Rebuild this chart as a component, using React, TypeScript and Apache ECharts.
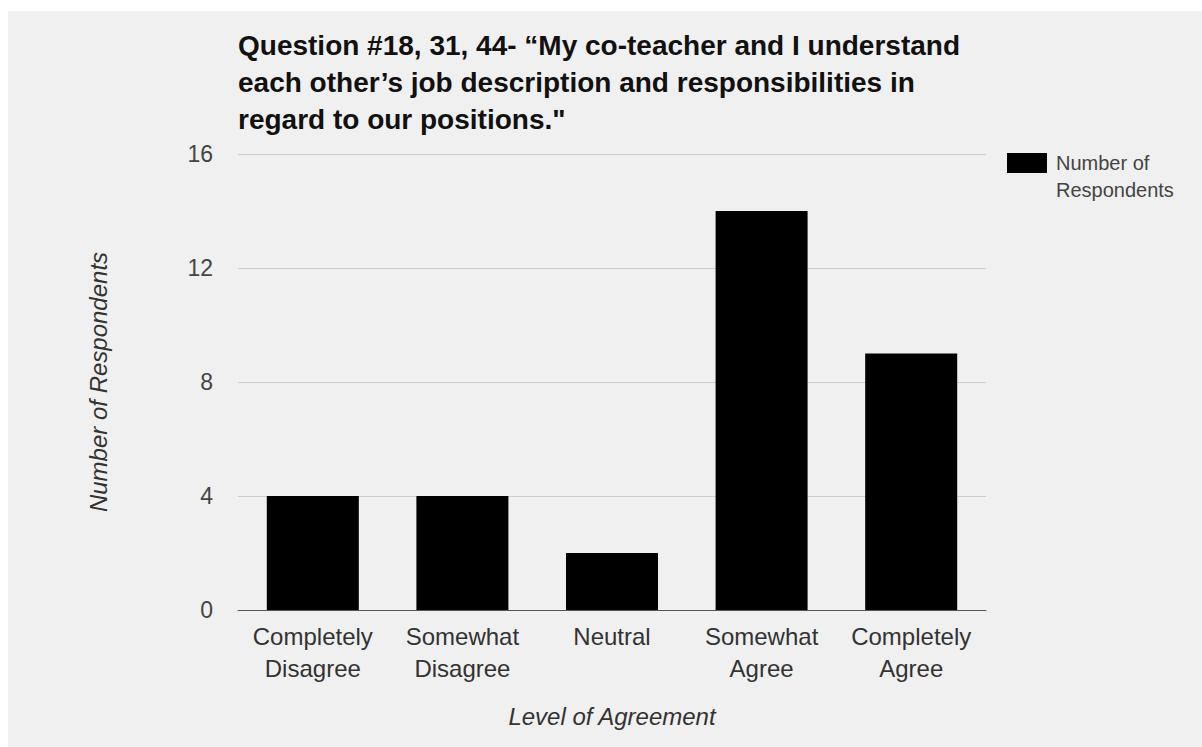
import React, { useEffect, useRef } from "react";
import * as echarts from "echarts";

const categories = ["Completely\nDisagree", "Somewhat\nDisagree", "Neutral", "Somewhat\nAgree", "Completely\nAgree"];
const respondents = [4, 4, 2, 14, 9];
const seriesName = "Number of Respondents";
const titleLines = [
  "Question #18, 31, 44- \u201cMy co-teacher and I understand",
  "each other\u2019s job description and responsibilities in",
  "regard to our positions.\"",
];
const yAxisName = "Number of Respondents";
const xAxisName = "Level of Agreement";

const FONT = "'Liberation Sans', Arial, sans-serif";

export default function App() {
  const ref = useRef<HTMLDivElement>(null);
  useEffect(() => {
    if (!ref.current) return;
    const chart = echarts.init(ref.current, undefined, { renderer: "svg" });
    chart.setOption({
      animation: false,
      backgroundColor: "#f0f0f0",
      textStyle: { fontFamily: FONT },
      title: {
        text: titleLines.join("\n"),
        left: 230,
        top: 16,
        padding: 0,
        textStyle: {
          fontFamily: FONT,
          fontSize: 28,
          fontWeight: "bold",
          color: "#111",
          lineHeight: 37,
        },
      },
      grid: { left: 230, right: 216, top: 143, bottom: 137, containLabel: false },
      xAxis: {
        type: "category",
        data: categories,
        axisTick: { show: false },
        axisLine: { lineStyle: { color: "#555", width: 1 } },
        axisLabel: {
          color: "#333",
          fontSize: 24,
          lineHeight: 32,
          margin: 10,
          fontFamily: FONT,
          interval: 0,
        },
        name: xAxisName,
        nameLocation: "middle",
        nameGap: 94,
        nameTextStyle: { fontStyle: "italic", fontSize: 24, color: "#333", fontFamily: FONT },
      },
      yAxis: {
        type: "value",
        min: 0,
        max: 16,
        interval: 4,
        axisLine: { show: false },
        axisTick: { show: false },
        splitLine: { lineStyle: { color: "#cccccc", width: 1 } },
        axisLabel: { color: "#444", fontSize: 23, margin: 25, fontFamily: FONT },
        name: yAxisName,
        nameLocation: "middle",
        nameRotate: 90,
        nameGap: 128,
        nameTextStyle: { fontStyle: "italic", fontSize: 24, color: "#333", fontFamily: FONT },
      },
      series: [
        {
          name: seriesName,
          type: "bar",
          data: respondents,
          barWidth: "61.5%",
          itemStyle: { color: "#000000" },
        },
      ],
      graphic: [
        {
          type: "rect",
          left: 999,
          top: 142,
          shape: { width: 40, height: 20 },
          style: { fill: "#000000" },
        },
        {
          type: "text",
          left: 1048,
          top: 138,
          style: {
            text: "Number of\nRespondents",
            fontSize: 20,
            lineHeight: 27,
            fill: "#444",
            fontFamily: FONT,
          },
        },
      ],
    });
    return () => chart.dispose();
  }, []);
  return (
    <div
      ref={ref}
      style={{ position: "absolute", left: 8, top: 11, width: 1194, height: 736 }}
    />
  );
}
